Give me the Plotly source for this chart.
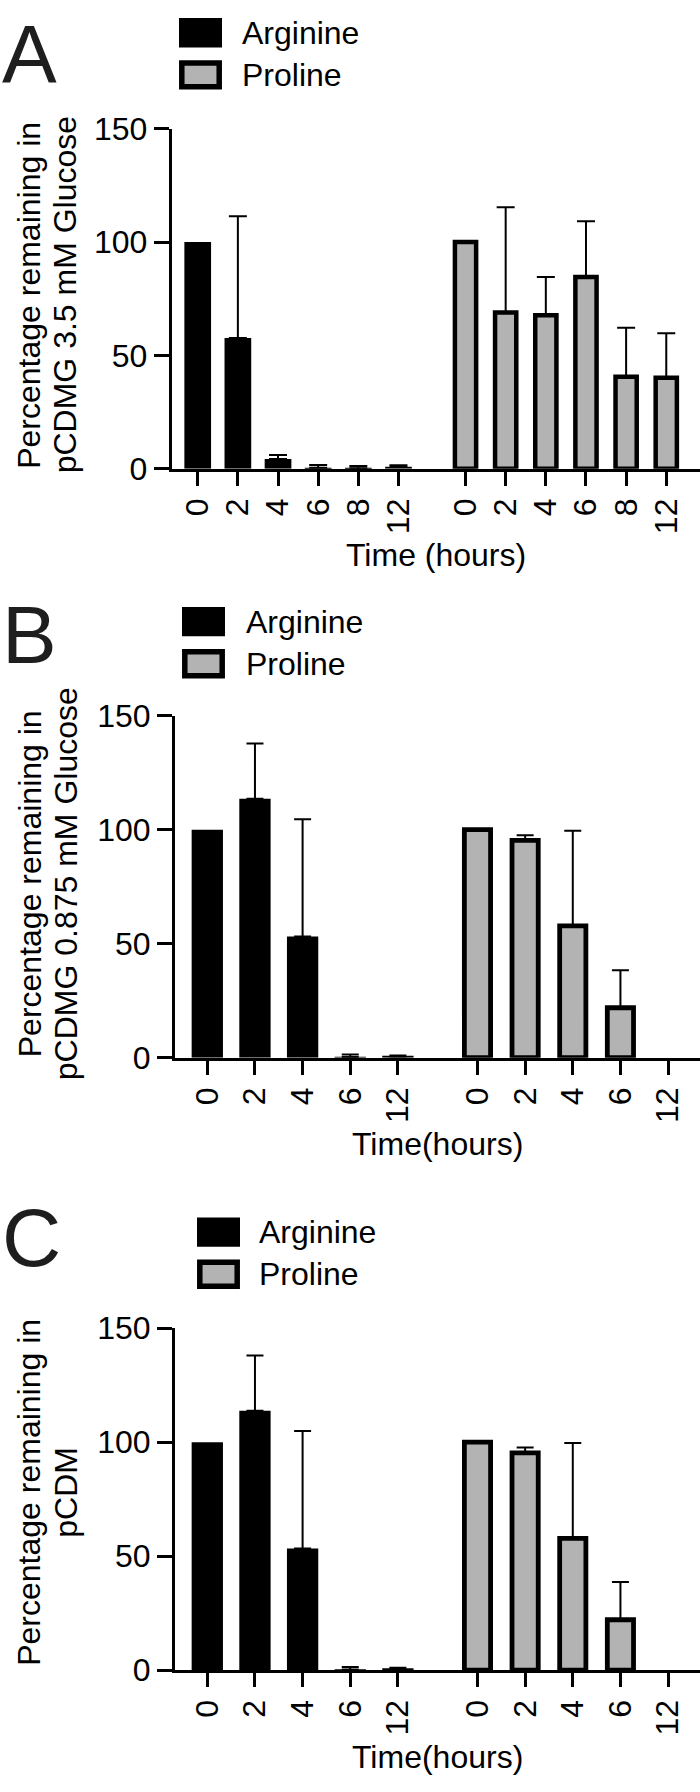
import plotly.graph_objects as go

W, H = 700, 1792
FONT = "Liberation Sans, Arial, Helvetica, sans-serif"
ARG_COLOR = "#000000"
PRO_COLOR = "#b3b3b3"
GROUP_GAP = 1.67

# ---------------- data ----------------
A_times = ["0", "2", "4", "6", "8", "12"]
A_arginine = [100, 57.7, 4.3, 0.4, 0.2, 0.9]
A_arginine_err = [None, 53.7, 1.8, 1.3, 1.0, 0.7]
A_proline = [100, 68.9, 67.7, 84.6, 40.6, 40.1]
A_proline_err = [None, 46.5, 16.9, 24.6, 21.6, 19.7]

B_times = ["0", "2", "4", "6", "12"]
B_arginine = [100, 113.6, 53.2, 0.3, 0.5]
B_arginine_err = [None, 24.2, 51.4, 1.1, 0.5]
B_proline = [100, 95.3, 57.8, 21.9, 0]
B_proline_err = [None, 2.3, 41.7, 16.5, None]

C_times = ["0", "2", "4", "6", "12"]
C_arginine = [100, 113.8, 53.4, 0.3, 0.5]
C_arginine_err = [None, 24.2, 51.5, 1.1, 0.5]
C_proline = [100, 95.3, 57.8, 22.1, 0]
C_proline_err = [None, 2.3, 41.8, 16.5, None]

Y_TICKS = [0, 50, 100, 150]
SERIES = ["Arginine", "Proline"]

# ---------------- layout (pixels) ----------------
panels = [
    dict(letter="A", times=A_times, arg=A_arginine, arg_err=A_arginine_err,
         pro=A_proline, pro_err=A_proline_err,
         ytitle=["Percentage remaining in", "pCDMG 3.5 mM Glucose"], xtitle="Time (hours)",
         axis_x=171.7, y_top=113, y_bot=460, xrange=[-0.648, 12.51],
         arg_w=0.665, pro_w=0.528, pro_lw=4.5, cap=9,
         letter_y=36, leg_x=179, leg_y=[0, 43], leg_text_x=240,
         xtitle_y=548, ytitle_x=[29.5, 65], ytitle_c=283),
    dict(letter="B", times=B_times, arg=B_arginine, arg_err=B_arginine_err,
         pro=B_proline, pro_err=B_proline_err,
         ytitle=["Percentage remaining in", "pCDMG 0.875 mM Glucose"], xtitle="Time(hours)",
         axis_x=175, y_top=712, y_bot=1061, xrange=[-0.678, 10.34],
         arg_w=0.657, pro_w=0.55, pro_lw=4.8, cap=8.5,
         letter_y=629, leg_x=182, leg_y=[601, 644], leg_text_x=244,
         xtitle_y=1149, ytitle_x=[30, 66], ytitle_c=884),
    dict(letter="C", times=C_times, arg=C_arginine, arg_err=C_arginine_err,
         pro=C_proline, pro_err=C_proline_err,
         ytitle=["Percentage remaining in", "pCDM"], xtitle="Time(hours)",
         axis_x=175, y_top=1337, y_bot=1686, xrange=[-0.678, 10.34],
         arg_w=0.657, pro_w=0.55, pro_lw=4.8, cap=8.5,
         letter_y=1245, leg_x=197, leg_y=[1224, 1267], leg_text_x=257,
         xtitle_y=1775, ytitle_x=[29, 66], ytitle_c=1505),
]


def px(x):
    return x / W


def py(y):
    return 1 - y / H


fig = go.Figure()
annotations = []
shapes = []
layout_axes = {}

for i, p in enumerate(panels):
    n = len(p["times"])
    arg_x = list(range(n))
    pro_x = [n - 1 + GROUP_GAP + k for k in range(n)]
    xa = "x" if i == 0 else f"x{i+1}"
    ya = "y" if i == 0 else f"y{i+1}"

    fig.add_trace(go.Bar(x=arg_x, y=p["arg"], width=p["arg_w"], name=SERIES[0],
                         marker=dict(color=ARG_COLOR, line=dict(width=0)),
                         xaxis=xa, yaxis=ya, showlegend=False))
    pro_lines = [p["pro_lw"] if v > 0 else 0 for v in p["pro"]]
    fig.add_trace(go.Bar(x=pro_x, y=p["pro"], width=p["pro_w"], name=SERIES[1],
                         marker=dict(color=PRO_COLOR, line=dict(color="black", width=pro_lines)),
                         xaxis=xa, yaxis=ya, showlegend=False))
    # error bars (upper only)
    for xs, vals, errs in [(arg_x, p["arg"], p["arg_err"]), (pro_x, p["pro"], p["pro_err"])]:
        ex = [x for x, e in zip(xs, errs) if e is not None]
        ey = [v for v, e in zip(vals, errs) if e is not None]
        ee = [e for e in errs if e is not None]
        fig.add_trace(go.Scatter(x=ex, y=ey, mode="markers",
                                 marker=dict(size=0.1, color="rgba(0,0,0,0)"),
                                 error_y=dict(type="data", array=ee, arrayminus=[0] * len(ee),
                                              symmetric=False, thickness=2, width=p["cap"],
                                              color="black"),
                                 xaxis=xa, yaxis=ya, showlegend=False, hoverinfo="skip"))

    sfx = "" if i == 0 else str(i + 1)
    layout_axes["xaxis" + sfx] = dict(
        domain=[px(p["axis_x"]), 1], anchor=ya, range=p["xrange"],
        tickvals=arg_x + pro_x, ticktext=p["times"] + p["times"],
        tickangle=-90, ticks="outside", ticklen=14, tickwidth=3, tickcolor="black",
        showline=True, linewidth=3, linecolor="black", showgrid=False, zeroline=False,
        tickfont=dict(size=32, color="black", family=FONT), fixedrange=True)
    layout_axes["yaxis" + sfx] = dict(
        domain=[py(p["y_bot"]), py(p["y_top"])], anchor=xa, range=[0, 150],
        tickvals=Y_TICKS, ticks="outside", ticklen=15, tickwidth=3, tickcolor="black",
        showline=True, linewidth=3, linecolor="black", showgrid=False, zeroline=False,
        tickfont=dict(size=32, color="black", family=FONT), fixedrange=True)

    # panel letter
    annotations.append(dict(text=p["letter"], x=0, y=py(p["letter_y"]), xref="paper", yref="paper",
                            xanchor="left", yanchor="middle", showarrow=False,
                            font=dict(size=82, color="#1e1e1e", family=FONT)))
    # y title lines
    for line, lx in zip(p["ytitle"], p["ytitle_x"]):
        annotations.append(dict(text=line, x=px(lx), y=py(p["ytitle_c"]), xref="paper", yref="paper",
                                xanchor="center", yanchor="middle", textangle=-90, showarrow=False,
                                font=dict(size=32, color="black", family=FONT)))
    # x title
    annotations.append(dict(text=p["xtitle"], x=px((p["axis_x"] + W) / 2), y=py(p["xtitle_y"]),
                            xref="paper", yref="paper", xanchor="center", yanchor="middle",
                            showarrow=False, font=dict(size=32, color="black", family=FONT)))
    # legend
    lx0, lx1 = p["leg_x"], p["leg_x"] + 43
    ay0 = p["leg_y"][0]
    shapes.append(dict(type="rect", xref="paper", yref="paper", x0=px(lx0), x1=px(lx1),
                       y0=py(ay0), y1=py(ay0 + 30), fillcolor=ARG_COLOR, line=dict(width=0)))
    by0 = p["leg_y"][1]
    shapes.append(dict(type="rect", xref="paper", yref="paper", x0=px(lx0 + 2.8), x1=px(lx1 - 2.8),
                       y0=py(by0 + 2.8), y1=py(by0 + 30 - 2.8), fillcolor=PRO_COLOR,
                       line=dict(color="black", width=5.5)))
    for name, yy in zip(SERIES, p["leg_y"]):
        annotations.append(dict(text=name, x=px(p["leg_text_x"]), y=py(yy + 15), xref="paper", yref="paper",
                                xanchor="left", yanchor="middle", showarrow=False,
                                font=dict(size=32, color="black", family=FONT)))

fig.update_layout(
    width=W, height=H, autosize=False,
    margin=dict(l=0, r=0, t=0, b=0, pad=0),
    paper_bgcolor="white", plot_bgcolor="white",
    barmode="overlay", showlegend=False,
    font=dict(family=FONT, size=32, color="black"),
    annotations=annotations, shapes=shapes,
    **layout_axes,
)

fig.write_html("out.html", config={"displayModeBar": False})
